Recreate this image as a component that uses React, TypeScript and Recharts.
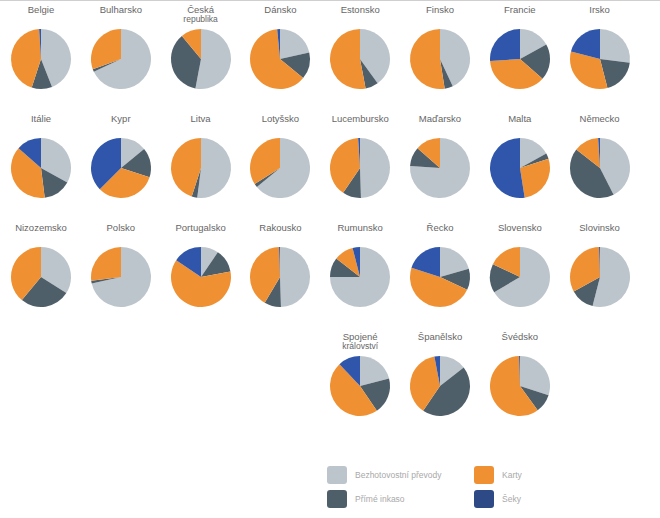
import { PieChart, Pie, Cell } from 'recharts';

// share of each payment instrument, per country (%), clockwise from 12 o'clock
const countries = [
  'Belgie', 'Bulharsko', 'Česká\nrepublika', 'Dánsko', 'Estonsko', 'Finsko', 'Francie', 'Irsko',
  'Itálie', 'Kypr', 'Litva', 'Lotyšsko', 'Lucembursko', 'Maďarsko', 'Malta', 'Německo',
  'Nizozemsko', 'Polsko', 'Portugalsko', 'Rakousko', 'Rumunsko', 'Řecko', 'Slovensko', 'Slovinsko',
  'Spojené\nkrálovství', 'Španělsko', 'Švédsko',
];
const transfers = [
  44, 68, 53, 21.5, 40, 43, 17, 27,
  33, 14, 52, 64, 49.5, 76, 17, 42.5,
  34, 71.5, 9.5, 49.5, 75, 20.5, 66.5, 54,
  21, 14.5, 30,
];
const directDebits = [
  11, 1.5, 36, 14.5, 7, 4.5, 19.5, 19,
  15, 16, 3, 2, 10, 10.5, 3, 43,
  27, 1.5, 12.5, 9, 10.5, 11.5, 15.5, 13,
  19.5, 45, 10,
];
const cards = [
  44, 30.5, 11, 62.5, 53, 52.5, 37.5, 33,
  38.5, 32.5, 45, 34, 39.5, 13.5, 27.5, 13.5,
  39, 27, 62.5, 41, 10.5, 48, 18, 32.5,
  47.5, 37.5, 59.5,
];
const cheques = [
  1, 0, 0, 1.5, 0, 0, 26, 21,
  13.5, 37.5, 0, 0, 1, 0, 52.5, 1,
  0, 0, 15.5, 0.5, 4, 20, 0, 0.5,
  12, 3, 0.5,
];
const seriesNames = ['Bezhotovostní převody', 'Přímé inkaso', 'Karty', 'Šeky'];
const colors = ['#bcc5cc', '#4f5f6a', '#ef9133', '#2f56ab'];
const legendColors = ['#bcc5cc', '#4f5f6a', '#ef9133', '#2d4a86'];

const colX = (c: number) => 41 + c * 79.8;
const rowY = (r: number) => 59 + r * 109;

const titleStyle: React.CSSProperties = {
  position: 'absolute',
  width: 80,
  textAlign: 'center',
  fontFamily: '"Liberation Sans", Arial, sans-serif',
  fontSize: 9.5,
  color: '#666',
  lineHeight: '9px',
  whiteSpace: 'pre',
};

function SmallPie({ idx }: { idx: number }) {
  const col = idx < 24 ? idx % 8 : 4 + (idx - 24);
  const row = Math.floor(idx / 8);
  const cx = colX(col);
  const cy = row === 3 ? 386 : rowY(row);
  const values = [transfers[idx], directDebits[idx], cards[idx], cheques[idx]];
  const data = values.map((v, i) => ({ name: seriesNames[i], value: v, color: colors[i] }));
  const label = countries[idx];
  const twoLine = label.includes('\n');
  return (
    <>
      <div style={{ ...titleStyle, left: cx - 40, top: cy - 54 }}>
        {twoLine ? (
          <>
            {label.split('\n')[0]}
            <br />
            <span style={{ fontSize: 8.5 }}>{label.split('\n')[1]}</span>
          </>
        ) : (
          label
        )}
      </div>
      <div style={{ position: 'absolute', left: cx - 35, top: cy - 35 }}>
        <PieChart width={70} height={70} margin={{ top: 0, right: 0, bottom: 0, left: 0 }}>
          <Pie
            data={data}
            dataKey="value"
            cx="50%"
            cy="50%"
            outerRadius={30}
            startAngle={90}
            endAngle={-270}
            stroke="none"
            isAnimationActive={false}
          >
            {data.map((d) => (
              <Cell key={d.name} fill={d.color} />
            ))}
          </Pie>
        </PieChart>
      </div>
    </>
  );
}

export default function App() {
  return (
    <div style={{ position: 'absolute', left: 0, top: 0, width: 660, height: 518, background: '#fff', overflow: 'hidden' }}>
      <div style={{ position: 'absolute', left: 0, top: 0, width: 660, height: 1, background: '#cfcfcf' }} />
      {countries.map((_, i) => (
        <SmallPie key={i} idx={i} />
      ))}
      {seriesNames.map((name, i) => {
        const left = i === 0 || i === 1 ? 327 : 474;
        const top = i === 0 || i === 2 ? 466 : 490;
        return (
          <div key={name} style={{ position: 'absolute', left, top, display: 'flex', alignItems: 'center' }}>
            <div style={{ width: 20, height: 18, borderRadius: 3, background: legendColors[i] }} />
            <span
              style={{
                marginLeft: 8,
                fontFamily: '"Liberation Sans", Arial, sans-serif',
                fontSize: 8.5,
                color: '#a9a9a9',
              }}
            >
              {name}
            </span>
          </div>
        );
      })}
    </div>
  );
}
